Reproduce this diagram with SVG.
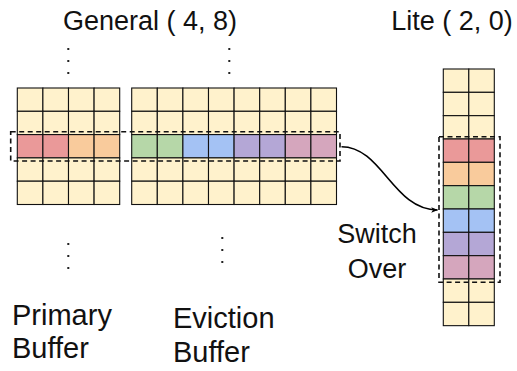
<svg xmlns="http://www.w3.org/2000/svg" width="517" height="371" viewBox="0 0 517 371">
  <style>
    .lbl { font-family: "Liberation Sans", Arial, sans-serif; font-size: 27px; fill: #111; }
    .big { font-size: 29px; }
    .mid { text-anchor: middle; }
    .cell { stroke: #111; stroke-width: 1.1; }
    .y { fill: #fff2cc; }
    .r { fill: #ea9999; }
    .o { fill: #f9cb9c; }
    .g { fill: #b6d7a8; }
    .b { fill: #a4c2f4; }
    .p { fill: #b4a7d6; }
    .k { fill: #d5a6bd; }
    .sel { fill: none; stroke: #111; stroke-width: 1.6; stroke-dasharray: 5 3.5; }
    .dot { fill: #222; }
    .edge { fill: none; stroke: #000; stroke-width: 1.6; }
  </style>
  <defs>
    <marker id="arrow" viewBox="0 0 10 10" refX="9" refY="5" markerWidth="7" markerHeight="7" orient="auto" markerUnits="userSpaceOnUse">
      <path d="M0,1 L10,5 L0,9 L2.5,5 Z" fill="#000"/>
    </marker>
  </defs>
  <rect width="517" height="371" fill="#fff"/>

  <!-- titles -->
  <g id="title-general"><text class="lbl mid" x="150" y="30">General ( 4, 8)</text></g>
  <g id="title-lite"><text class="lbl mid" x="452" y="30">Lite ( 2, 0)</text></g>

  <!-- continuation dots -->
  <g id="dots">
    <rect class="dot" x="67.3" y="48" width="2" height="2"/>
    <rect class="dot" x="67.3" y="60" width="2" height="2"/>
    <rect class="dot" x="67.3" y="72" width="2" height="2"/>
    <rect class="dot" x="228.3" y="48" width="2" height="2"/>
    <rect class="dot" x="228.3" y="60" width="2" height="2"/>
    <rect class="dot" x="228.3" y="72" width="2" height="2"/>
    <rect class="dot" x="67.3" y="243" width="2" height="2"/>
    <rect class="dot" x="67.3" y="255" width="2" height="2"/>
    <rect class="dot" x="67.3" y="267" width="2" height="2"/>
    <rect class="dot" x="221.3" y="237" width="2" height="2"/>
    <rect class="dot" x="221.3" y="249" width="2" height="2"/>
    <rect class="dot" x="221.3" y="261" width="2" height="2"/>
  </g>

  <!-- primary buffer: 4 x 5 -->
  <g id="primary-buffer">
    <g class="cell">
      <rect class="y" x="17.3" y="88" width="25.6" height="23.3"/><rect class="y" x="42.9" y="88" width="25.6" height="23.3"/><rect class="y" x="68.5" y="88" width="25.6" height="23.3"/><rect class="y" x="94.1" y="88" width="25.6" height="23.3"/>
      <rect class="y" x="17.3" y="111.3" width="25.6" height="23.3"/><rect class="y" x="42.9" y="111.3" width="25.6" height="23.3"/><rect class="y" x="68.5" y="111.3" width="25.6" height="23.3"/><rect class="y" x="94.1" y="111.3" width="25.6" height="23.3"/>
      <rect class="r" x="17.3" y="134.6" width="25.6" height="23.3"/><rect class="r" x="42.9" y="134.6" width="25.6" height="23.3"/><rect class="o" x="68.5" y="134.6" width="25.6" height="23.3"/><rect class="o" x="94.1" y="134.6" width="25.6" height="23.3"/>
      <rect class="y" x="17.3" y="157.9" width="25.6" height="23.3"/><rect class="y" x="42.9" y="157.9" width="25.6" height="23.3"/><rect class="y" x="68.5" y="157.9" width="25.6" height="23.3"/><rect class="y" x="94.1" y="157.9" width="25.6" height="23.3"/>
      <rect class="y" x="17.3" y="181.2" width="25.6" height="23.3"/><rect class="y" x="42.9" y="181.2" width="25.6" height="23.3"/><rect class="y" x="68.5" y="181.2" width="25.6" height="23.3"/><rect class="y" x="94.1" y="181.2" width="25.6" height="23.3"/>
    </g>
    <text class="lbl big" x="12" y="325">Primary</text>
    <text class="lbl big" x="12" y="358">Buffer</text>
  </g>

  <!-- eviction buffer: 8 x 5 -->
  <g id="eviction-buffer">
    <g class="cell">
      <rect class="y" x="131.7" y="88" width="25.6" height="23.3"/><rect class="y" x="157.3" y="88" width="25.6" height="23.3"/><rect class="y" x="182.9" y="88" width="25.6" height="23.3"/><rect class="y" x="208.5" y="88" width="25.6" height="23.3"/><rect class="y" x="234.1" y="88" width="25.6" height="23.3"/><rect class="y" x="259.7" y="88" width="25.6" height="23.3"/><rect class="y" x="285.3" y="88" width="25.6" height="23.3"/><rect class="y" x="310.9" y="88" width="25.6" height="23.3"/>
      <rect class="y" x="131.7" y="111.3" width="25.6" height="23.3"/><rect class="y" x="157.3" y="111.3" width="25.6" height="23.3"/><rect class="y" x="182.9" y="111.3" width="25.6" height="23.3"/><rect class="y" x="208.5" y="111.3" width="25.6" height="23.3"/><rect class="y" x="234.1" y="111.3" width="25.6" height="23.3"/><rect class="y" x="259.7" y="111.3" width="25.6" height="23.3"/><rect class="y" x="285.3" y="111.3" width="25.6" height="23.3"/><rect class="y" x="310.9" y="111.3" width="25.6" height="23.3"/>
      <rect class="g" x="131.7" y="134.6" width="25.6" height="23.3"/><rect class="g" x="157.3" y="134.6" width="25.6" height="23.3"/><rect class="b" x="182.9" y="134.6" width="25.6" height="23.3"/><rect class="b" x="208.5" y="134.6" width="25.6" height="23.3"/><rect class="p" x="234.1" y="134.6" width="25.6" height="23.3"/><rect class="p" x="259.7" y="134.6" width="25.6" height="23.3"/><rect class="k" x="285.3" y="134.6" width="25.6" height="23.3"/><rect class="k" x="310.9" y="134.6" width="25.6" height="23.3"/>
      <rect class="y" x="131.7" y="157.9" width="25.6" height="23.3"/><rect class="y" x="157.3" y="157.9" width="25.6" height="23.3"/><rect class="y" x="182.9" y="157.9" width="25.6" height="23.3"/><rect class="y" x="208.5" y="157.9" width="25.6" height="23.3"/><rect class="y" x="234.1" y="157.9" width="25.6" height="23.3"/><rect class="y" x="259.7" y="157.9" width="25.6" height="23.3"/><rect class="y" x="285.3" y="157.9" width="25.6" height="23.3"/><rect class="y" x="310.9" y="157.9" width="25.6" height="23.3"/>
      <rect class="y" x="131.7" y="181.2" width="25.6" height="23.3"/><rect class="y" x="157.3" y="181.2" width="25.6" height="23.3"/><rect class="y" x="182.9" y="181.2" width="25.6" height="23.3"/><rect class="y" x="208.5" y="181.2" width="25.6" height="23.3"/><rect class="y" x="234.1" y="181.2" width="25.6" height="23.3"/><rect class="y" x="259.7" y="181.2" width="25.6" height="23.3"/><rect class="y" x="285.3" y="181.2" width="25.6" height="23.3"/><rect class="y" x="310.9" y="181.2" width="25.6" height="23.3"/>
    </g>
    <text class="lbl big" x="173" y="328">Eviction</text>
    <text class="lbl big" x="173" y="362">Buffer</text>
  </g>

  <!-- selected row across the general buffers -->
  <g id="general-selection"><rect class="sel" x="10.7" y="131.7" width="329.3" height="29.3"/></g>

  <!-- lite buffer: 2 x 11 -->
  <g id="lite-buffer">
    <g class="cell">
      <rect class="y" x="443.3" y="69" width="25.5" height="23.33"/><rect class="y" x="468.8" y="69" width="25.5" height="23.33"/>
      <rect class="y" x="443.3" y="92.33" width="25.5" height="23.33"/><rect class="y" x="468.8" y="92.33" width="25.5" height="23.33"/>
      <rect class="y" x="443.3" y="115.67" width="25.5" height="23.33"/><rect class="y" x="468.8" y="115.67" width="25.5" height="23.33"/>
      <rect class="r" x="443.3" y="139" width="25.5" height="23.33"/><rect class="r" x="468.8" y="139" width="25.5" height="23.33"/>
      <rect class="o" x="443.3" y="162.33" width="25.5" height="23.33"/><rect class="o" x="468.8" y="162.33" width="25.5" height="23.33"/>
      <rect class="g" x="443.3" y="185.67" width="25.5" height="23.33"/><rect class="g" x="468.8" y="185.67" width="25.5" height="23.33"/>
      <rect class="b" x="443.3" y="209" width="25.5" height="23.33"/><rect class="b" x="468.8" y="209" width="25.5" height="23.33"/>
      <rect class="p" x="443.3" y="232.33" width="25.5" height="23.33"/><rect class="p" x="468.8" y="232.33" width="25.5" height="23.33"/>
      <rect class="k" x="443.3" y="255.67" width="25.5" height="23.33"/><rect class="k" x="468.8" y="255.67" width="25.5" height="23.33"/>
      <rect class="y" x="443.3" y="279" width="25.5" height="23.33"/><rect class="y" x="468.8" y="279" width="25.5" height="23.33"/>
      <rect class="y" x="443.3" y="302.33" width="25.5" height="23.33"/><rect class="y" x="468.8" y="302.33" width="25.5" height="23.33"/>
    </g>
  </g>
  <g id="lite-selection"><rect class="sel" x="439" y="136.7" width="61" height="145.6"/></g>

  <!-- switch-over connector -->
  <g id="connectors">
    <path class="edge" d="M341.5,146.7 C382,146.7 393,210 437.5,210" marker-end="url(#arrow)"/>
    <text class="lbl mid" x="377" y="243">Switch</text>
    <text class="lbl mid" x="377" y="278">Over</text>
  </g>
</svg>
